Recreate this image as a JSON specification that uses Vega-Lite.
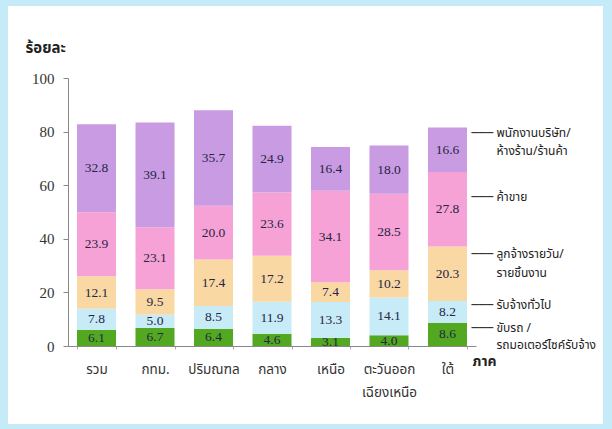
{
  "$schema": "https://vega.github.io/schema/vega-lite/v6.json",
  "width": 595,
  "height": 418,
  "autosize": {"type": "none"},
  "padding": {"left": 8, "top": 6, "right": 9, "bottom": 5},
  "background": "#c6ebf8",
  "config": {
    "view": {"fill": "#ffffff", "stroke": null},
    "font": "Noto Sans Thai, Noto Sans, DejaVu Sans, sans-serif"
  },
  "datasets": {
    "main": [
      {"region": "รวม", "type": "ขับรถ / รถมอเตอร์ไซค์รับจ้าง", "o": 1, "value": 6.1},
      {"region": "รวม", "type": "รับจ้างทั่วไป", "o": 2, "value": 7.8},
      {"region": "รวม", "type": "ลูกจ้างรายวัน/รายชิ้นงาน", "o": 3, "value": 12.1},
      {"region": "รวม", "type": "ค้าขาย", "o": 4, "value": 23.9},
      {"region": "รวม", "type": "พนักงานบริษัท/ห้างร้าน/ร้านค้า", "o": 5, "value": 32.8},
      {"region": "กทม.", "type": "ขับรถ / รถมอเตอร์ไซค์รับจ้าง", "o": 1, "value": 6.7},
      {"region": "กทม.", "type": "รับจ้างทั่วไป", "o": 2, "value": 5.0},
      {"region": "กทม.", "type": "ลูกจ้างรายวัน/รายชิ้นงาน", "o": 3, "value": 9.5},
      {"region": "กทม.", "type": "ค้าขาย", "o": 4, "value": 23.1},
      {"region": "กทม.", "type": "พนักงานบริษัท/ห้างร้าน/ร้านค้า", "o": 5, "value": 39.1},
      {"region": "ปริมณฑล", "type": "ขับรถ / รถมอเตอร์ไซค์รับจ้าง", "o": 1, "value": 6.4},
      {"region": "ปริมณฑล", "type": "รับจ้างทั่วไป", "o": 2, "value": 8.5},
      {"region": "ปริมณฑล", "type": "ลูกจ้างรายวัน/รายชิ้นงาน", "o": 3, "value": 17.4},
      {"region": "ปริมณฑล", "type": "ค้าขาย", "o": 4, "value": 20.0},
      {"region": "ปริมณฑล", "type": "พนักงานบริษัท/ห้างร้าน/ร้านค้า", "o": 5, "value": 35.7},
      {"region": "กลาง", "type": "ขับรถ / รถมอเตอร์ไซค์รับจ้าง", "o": 1, "value": 4.6},
      {"region": "กลาง", "type": "รับจ้างทั่วไป", "o": 2, "value": 11.9},
      {"region": "กลาง", "type": "ลูกจ้างรายวัน/รายชิ้นงาน", "o": 3, "value": 17.2},
      {"region": "กลาง", "type": "ค้าขาย", "o": 4, "value": 23.6},
      {"region": "กลาง", "type": "พนักงานบริษัท/ห้างร้าน/ร้านค้า", "o": 5, "value": 24.9},
      {"region": "เหนือ", "type": "ขับรถ / รถมอเตอร์ไซค์รับจ้าง", "o": 1, "value": 3.1},
      {"region": "เหนือ", "type": "รับจ้างทั่วไป", "o": 2, "value": 13.3},
      {"region": "เหนือ", "type": "ลูกจ้างรายวัน/รายชิ้นงาน", "o": 3, "value": 7.4},
      {"region": "เหนือ", "type": "ค้าขาย", "o": 4, "value": 34.1},
      {"region": "เหนือ", "type": "พนักงานบริษัท/ห้างร้าน/ร้านค้า", "o": 5, "value": 16.4},
      {"region": "ตะวันออกเฉียงเหนือ", "type": "ขับรถ / รถมอเตอร์ไซค์รับจ้าง", "o": 1, "value": 4.0},
      {"region": "ตะวันออกเฉียงเหนือ", "type": "รับจ้างทั่วไป", "o": 2, "value": 14.1},
      {"region": "ตะวันออกเฉียงเหนือ", "type": "ลูกจ้างรายวัน/รายชิ้นงาน", "o": 3, "value": 10.2},
      {"region": "ตะวันออกเฉียงเหนือ", "type": "ค้าขาย", "o": 4, "value": 28.5},
      {"region": "ตะวันออกเฉียงเหนือ", "type": "พนักงานบริษัท/ห้างร้าน/ร้านค้า", "o": 5, "value": 18.0},
      {"region": "ใต้", "type": "ขับรถ / รถมอเตอร์ไซค์รับจ้าง", "o": 1, "value": 8.6},
      {"region": "ใต้", "type": "รับจ้างทั่วไป", "o": 2, "value": 8.2},
      {"region": "ใต้", "type": "ลูกจ้างรายวัน/รายชิ้นงาน", "o": 3, "value": 20.3},
      {"region": "ใต้", "type": "ค้าขาย", "o": 4, "value": 27.8},
      {"region": "ใต้", "type": "พนักงานบริษัท/ห้างร้าน/ร้านค้า", "o": 5, "value": 16.6}
    ],
    "legendText": [
      {"label": "พนักงานบริษัท/", "pos": 79.5},
      {"label": "ห้างร้าน/ร้านค้า", "pos": 72.8},
      {"label": "ค้าขาย", "pos": 55.6},
      {"label": "ลูกจ้างรายวัน/", "pos": 34.3},
      {"label": "รายชิ้นงาน", "pos": 27.2},
      {"label": "รับจ้างทั่วไป", "pos": 15.3},
      {"label": "ขับรถ /", "pos": 6.7},
      {"label": "รถมอเตอร์ไซค์รับจ้าง", "pos": 0.4}
    ],
    "legendDash": [
      {"pos": 79.5}, {"pos": 55.6}, {"pos": 34.3}, {"pos": 15.3}, {"pos": 6.7}
    ]
  },
  "layer": [
    {
      "data": {"name": "main"},
      "transform": [
        {"stack": "value", "groupby": ["region"], "sort": [{"field": "o", "order": "ascending"}], "as": ["v0", "v1"]}
      ],
      "mark": {"type": "bar"},
      "encoding": {
        "x": {
          "field": "region", "type": "nominal", "sort": null,
          "scale": {"range": [60, 468], "paddingInner": 0.333, "paddingOuter": 0.154},
          "axis": {
            "title": "ภาค", "titleFontSize": 14, "titleFontWeight": "bold", "titleColor": "#222",
            "titleAlign": "left", "titleBaseline": "middle", "titleX": 464, "titleY": 15, "titleAnchor": null,
            "offset": -78, "labelAngle": 0, "labelFontSize": 13.5, "labelColor": "#333", "labelPadding": 13,
            "labelExpr": "datum.value == 'ตะวันออกเฉียงเหนือ' ? ['ตะวันออก', 'เฉียงเหนือ'] : datum.label",
            "labelLineHeight": 23, "labelBaseline": "top",
            "domainColor": "#888", "tickColor": "#aaa", "tickSize": 3, "tickBand": "extent"
          }
        },
        "y": {
          "field": "v0", "type": "quantitative",
          "scale": {"domain": [0, 100], "range": [340, 72], "nice": false, "zero": false},
          "axis": {
            "title": "ร้อยละ", "titleAngle": 0, "titleFontSize": 15, "titleFontWeight": "bold", "titleColor": "#222",
            "titleAlign": "left", "titleBaseline": "middle", "titleX": -43, "titleY": 41, "titleAnchor": null,
            "offset": -60, "values": [0, 20, 40, 60, 80, 100], "grid": false,
            "labelFont": "Liberation Serif", "labelFontSize": 15, "labelColor": "#333", "labelPadding": 9,
            "domainColor": "#888", "tickColor": "#888", "tickSize": 5
          }
        },
        "y2": {"field": "v1"},
        "color": {
          "field": "type", "type": "nominal", "legend": null,
          "scale": {
            "domain": ["ขับรถ / รถมอเตอร์ไซค์รับจ้าง", "รับจ้างทั่วไป", "ลูกจ้างรายวัน/รายชิ้นงาน", "ค้าขาย", "พนักงานบริษัท/ห้างร้าน/ร้านค้า"],
            "range": ["#52a820", "#c8ebf8", "#fad8a4", "#f6a2d7", "#c99be2"]
          }
        }
      }
    },
    {
      "data": {"name": "main"},
      "transform": [
        {"stack": "value", "groupby": ["region"], "sort": [{"field": "o", "order": "ascending"}], "as": ["v0", "v1"]},
        {"calculate": "(datum.v0 + datum.v1) / 2", "as": "mid"}
      ],
      "mark": {"type": "text", "font": "Liberation Serif", "fontSize": 13.5, "color": "#262644", "baseline": "middle"},
      "encoding": {
        "x": {"field": "region", "type": "nominal", "sort": null},
        "y": {"field": "mid", "type": "quantitative"},
        "text": {"field": "value", "type": "quantitative", "format": ".1f"}
      }
    },
    {
      "data": {"name": "legendDash"},
      "mark": {"type": "text", "align": "left", "baseline": "middle", "dx": 24, "fontSize": 12, "color": "#222", "font": "DejaVu Sans Mono"},
      "encoding": {
        "x": {"datum": "ใต้", "type": "nominal"},
        "y": {"field": "pos", "type": "quantitative"},
        "text": {"value": "───"}
      }
    },
    {
      "data": {"name": "legendText"},
      "mark": {"type": "text", "align": "left", "baseline": "middle", "dx": 49, "fontSize": 12, "color": "#222"},
      "encoding": {
        "x": {"datum": "ใต้", "type": "nominal"},
        "y": {"field": "pos", "type": "quantitative"},
        "text": {"field": "label"}
      }
    }
  ]
}
